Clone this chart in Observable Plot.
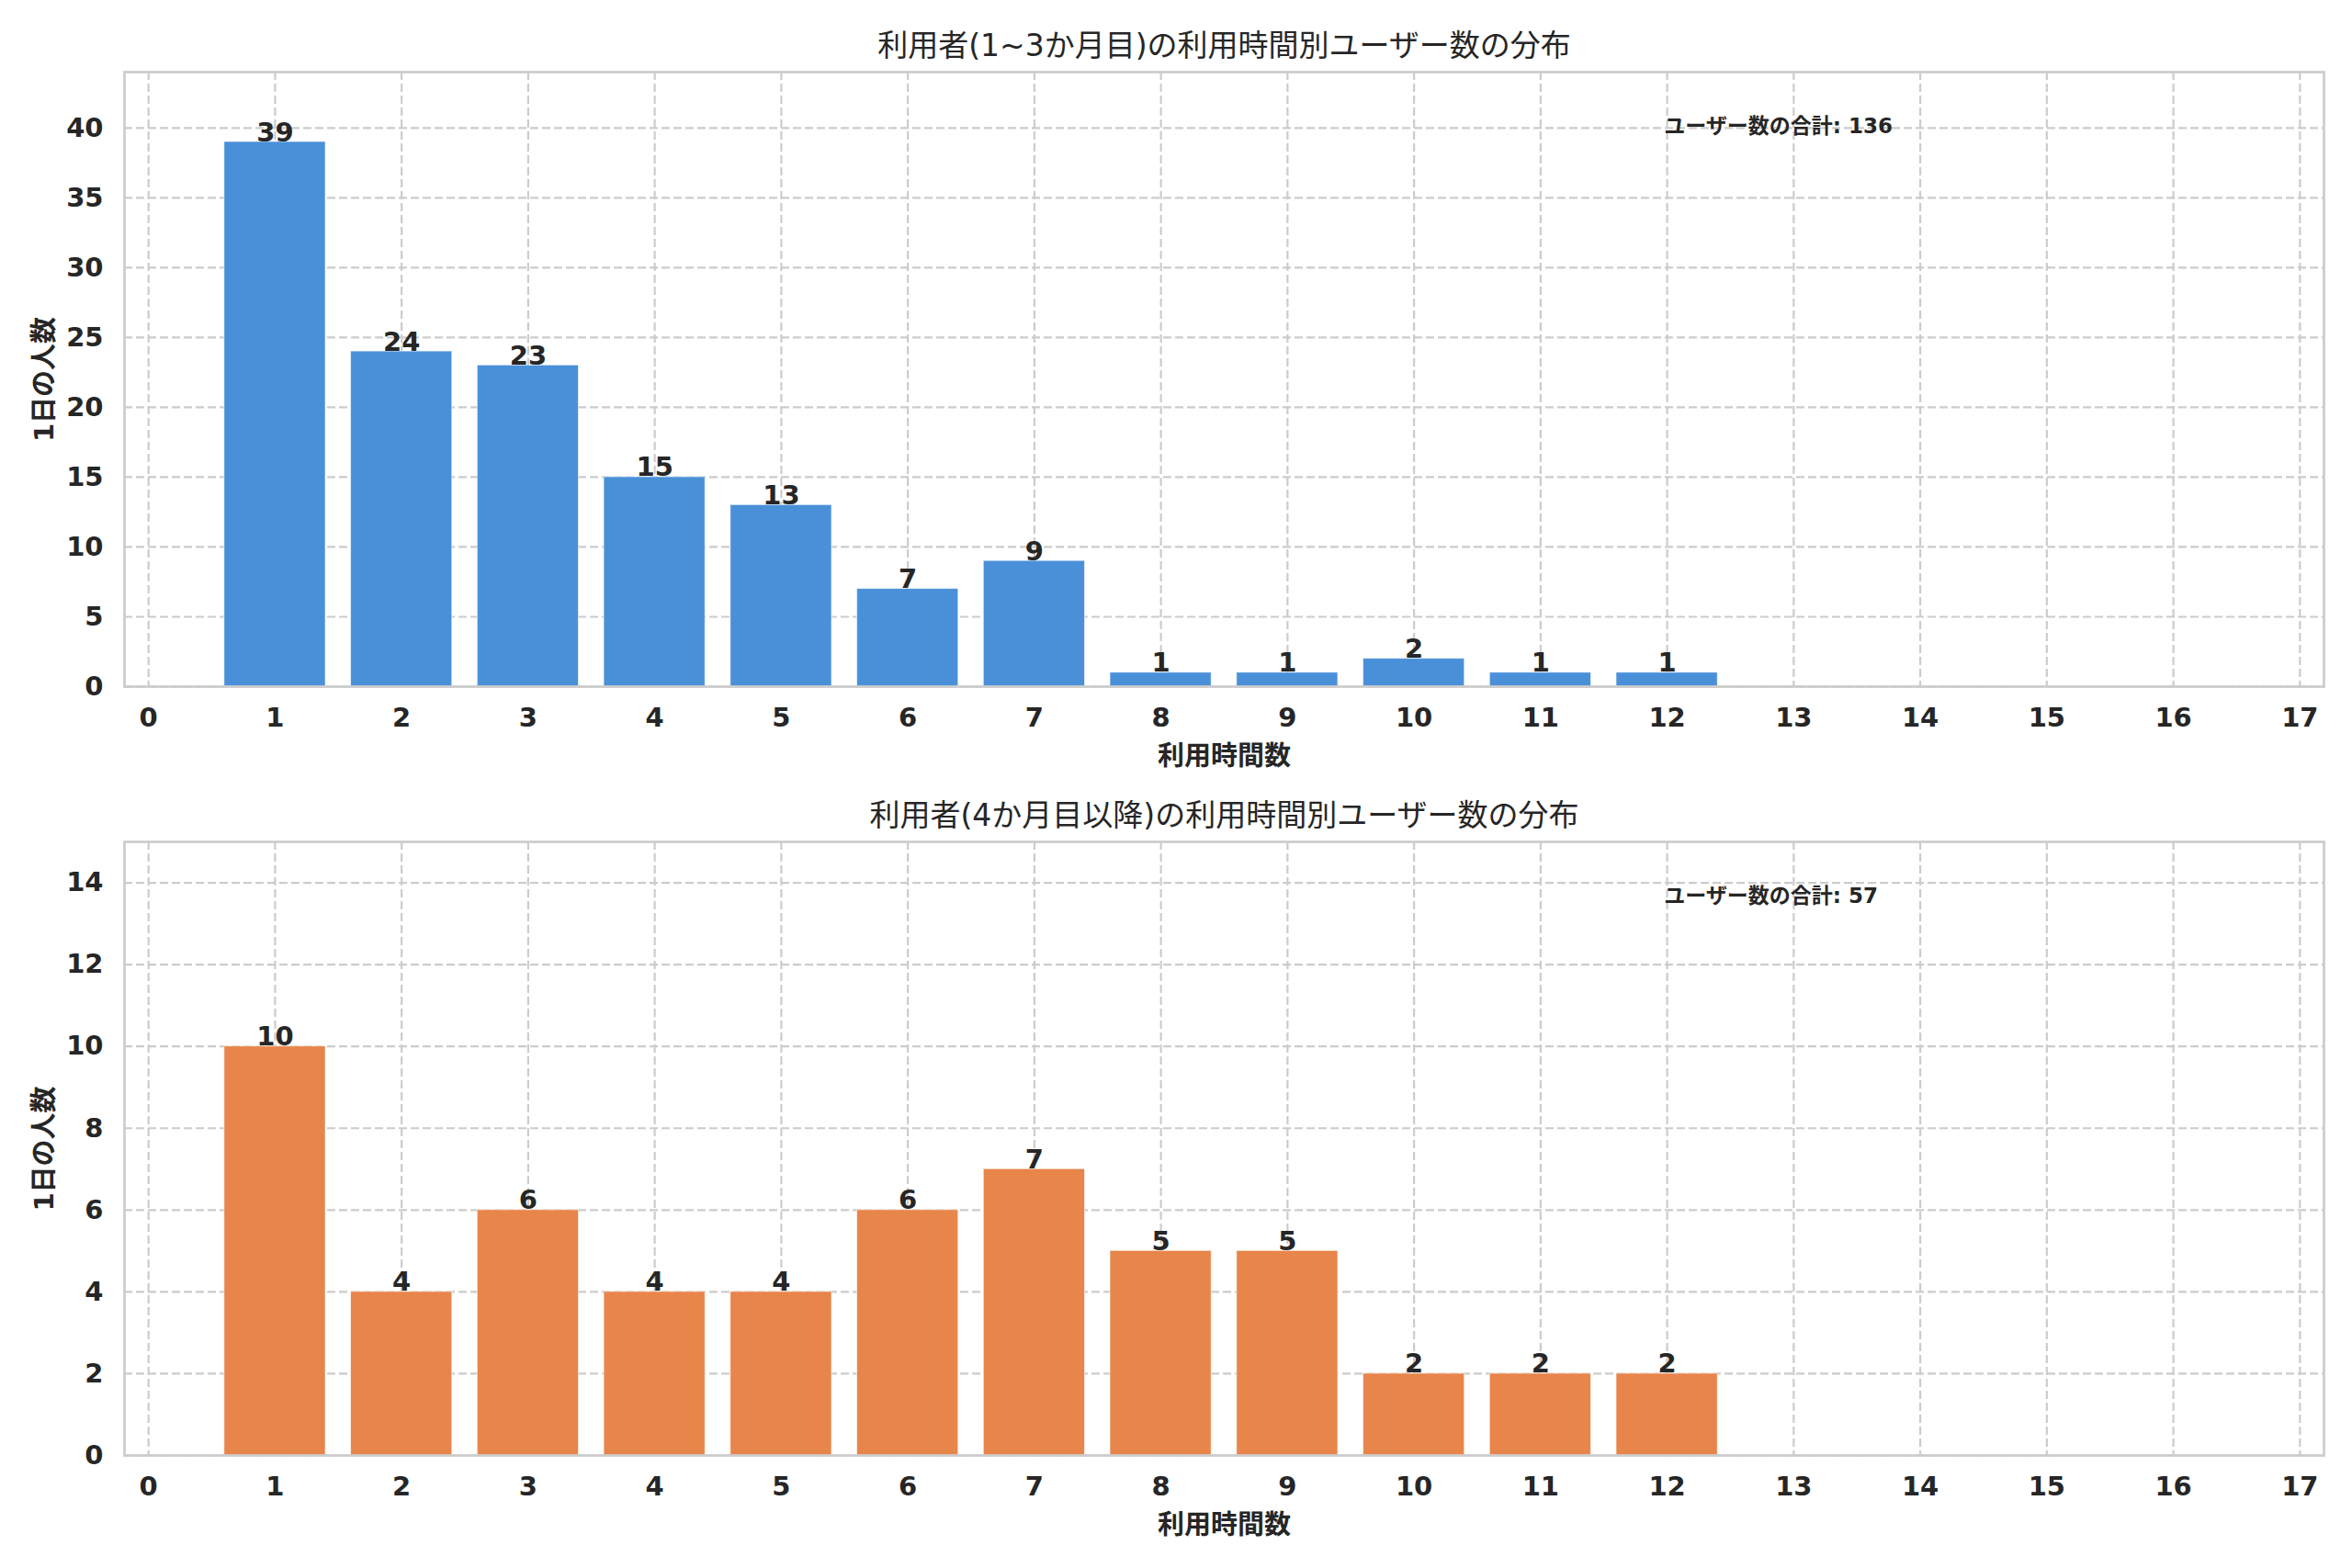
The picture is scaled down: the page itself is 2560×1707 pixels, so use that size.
<!DOCTYPE html>
<html>
<head>
<meta charset="utf-8">
<script src="https://cdn.jsdelivr.net/npm/d3@7"></script>
<script src="https://cdn.jsdelivr.net/npm/@observablehq/plot@0.6"></script>
<style>
  html, body { margin: 0; padding: 0; background: #ffffff; }
  #chart svg { display: block; }
</style>
</head>
<body>
<div id="chart"></div>
<script>
// ---- data ----
const categories = [1, 2, 3, 4, 5, 6, 7, 8, 9, 10, 11, 12];
const countsEarly = [39, 24, 23, 15, 13, 7, 9, 1, 1, 2, 1, 1];
const countsLate = [10, 4, 6, 4, 4, 6, 7, 5, 5, 2, 2, 2];
const xTicks = [0, 1, 2, 3, 4, 5, 6, 7, 8, 9, 10, 11, 12, 13, 14, 15, 16, 17];
const yTicksEarly = [0, 5, 10, 15, 20, 25, 30, 35, 40];
const yTicksLate = [0, 2, 4, 6, 8, 10, 12, 14];
const titles = [
  "利用者(1~3か月目)の利用時間別ユーザー数の分布",
  "利用者(4か月目以降)の利用時間別ユーザー数の分布"
];
const xLabel = "利用時間数";
const yLabel = "1日の人数";
const totalLabel = "ユーザー数の合計";

const FONT = '"DejaVu Sans", "Noto Sans CJK JP", sans-serif';
const INK = "#262626";
const GRID = "#cccccc";

function panel({counts, yTicks, yMax, color, title, marginTop, marginBottom, height}) {
  const data = categories.map((k, i) => ({k, v: counts[i]}));
  const total = d3.sum(counts);
  const width = 2560, mL = 135, mR = 31;
  const plotW = width - mL - mR;
  const plotH = height - marginTop - marginBottom;
  return Plot.plot({
    width, height,
    marginLeft: mL, marginRight: mR, marginTop, marginBottom,
    style: {fontFamily: FONT, background: "#ffffff", color: INK},
    x: {domain: [-0.19, 17.19], ticks: xTicks, tickFormat: d => String(d)},
    y: {domain: [0, yMax], ticks: yTicks, tickFormat: d => String(d)},
    marks: [
      Plot.gridX(xTicks, {stroke: GRID, strokeOpacity: 1, strokeWidth: 2.2, strokeDasharray: "9,4"}),
      Plot.gridY(yTicks, {stroke: GRID, strokeOpacity: 1, strokeWidth: 2.2, strokeDasharray: "9,4"}),
      Plot.rectY(data, {x1: d => d.k - 0.4, x2: d => d.k + 0.4, y1: 0, y2: "v", fill: color, stroke: "white", strokeWidth: 1, strokeOpacity: 0.6}),
      Plot.text(data, {x: "k", y: "v", text: d => String(d.v), lineAnchor: "bottom", dy: -1,
        fontSize: 29, fontWeight: "bold", fill: INK}),
      Plot.frame({stroke: GRID, strokeWidth: 2.7}),
      Plot.axisX(xTicks, {tickSize: 0, tickPadding: 23, fontSize: 29, fontWeight: "bold", fill: INK, label: null, tickFormat: d => String(d)}),
      Plot.axisY(yTicks, {tickSize: 0, tickPadding: 23, fontSize: 29, fontWeight: "bold", fill: INK, label: null, tickFormat: d => String(d)}),
      Plot.text([title], {frameAnchor: "top", dy: -18, lineAnchor: "bottom", fontSize: 33, fill: INK}),
      Plot.text([xLabel], {frameAnchor: "bottom", dy: 85, lineAnchor: "bottom", fontSize: 29, fontWeight: "bold", fill: INK}),
      Plot.text([yLabel], {frameAnchor: "left", dx: -78, rotate: -90, lineAnchor: "bottom", textAnchor: "middle", fontSize: 29, fontWeight: "bold", fill: INK}),
      Plot.text([`${totalLabel}: ${total}`], {frameAnchor: "top-left", dx: 0.7 * plotW, dy: 0.1 * plotH,
        lineAnchor: "bottom", textAnchor: "start", fontSize: 23, fontWeight: "bold", fill: INK})
    ]
  });
}

const root = document.getElementById("chart");
root.append(panel({counts: countsEarly, yTicks: yTicksEarly, yMax: 44, color: "#4a90d9",
  title: titles[0], marginTop: 78, marginBottom: 106, height: 853}));
root.append(panel({counts: countsLate, yTicks: yTicksLate, yMax: 15, color: "#e8854a",
  title: titles[1], marginTop: 63, marginBottom: 123, height: 854}));
</script>
</body>
</html>
